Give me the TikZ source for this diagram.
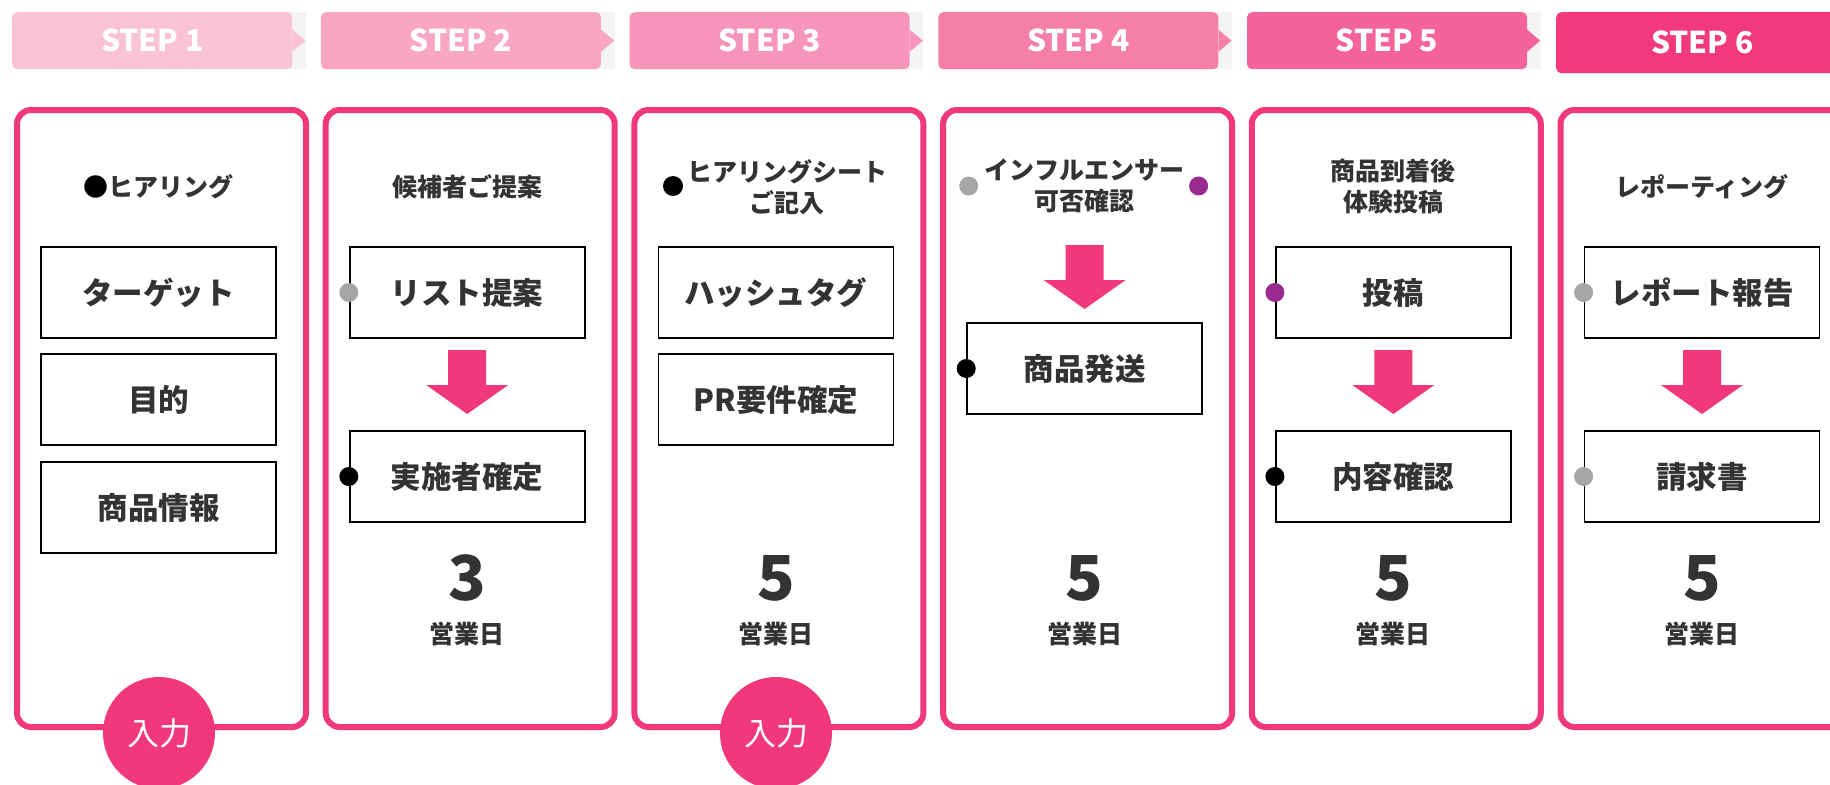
\documentclass[tikz,border=0pt]{standalone}
\usepackage{fontspec}
\setmainfont{Noto Sans CJK JP}
\usetikzlibrary{calc}
\definecolor{pk}{HTML}{F0387A}
\definecolor{sA}{HTML}{F9C2D6}
\definecolor{sB}{HTML}{F8A6C4}
\definecolor{sC}{HTML}{F794BA}
\definecolor{sD}{HTML}{F67FAA}
\definecolor{sE}{HTML}{F4639A}
\definecolor{sF}{HTML}{F2397B}
\definecolor{txt}{HTML}{333333}
\definecolor{dotgray}{HTML}{A6A6A6}
\definecolor{dotpurple}{HTML}{9B2A8E}
\definecolor{tabgray}{HTML}{F4F4F4}
\tikzset{
  panel/.style={draw=pk, line width=6pt, rounded corners=14pt, fill=white, minimum width=289pt, minimum height=617pt, anchor=north west, inner sep=0pt},
  hdr/.style={rounded corners=5pt, minimum width=280pt, minimum height=57pt, anchor=north west, inner sep=0pt, text=white, font=\bfseries\fontsize{30}{30}\selectfont},
  stepbox/.style={draw=black, line width=1.8pt, fill=white, minimum width=235pt, minimum height=91pt, inner sep=0pt, text=txt, font=\bfseries\fontsize{30.5}{32}\selectfont},
  ttl/.style={text=txt, align=center, inner sep=0pt, font=\bfseries\fontsize{25}{31}\selectfont},
  num/.style={text=txt, inner sep=0pt, font=\bfseries\fontsize{62}{62}\selectfont},
  unit/.style={text=txt, inner sep=0pt, font=\bfseries\fontsize{25}{25}\selectfont},
  dot/.style={circle, minimum size=19pt, inner sep=0pt},
  badge/.style={circle, fill=pk, minimum size=112pt, inner sep=0pt, text=white, font=\fontsize{32}{32}\selectfont},
  dnarrow/.pic={\fill[pk] (-19,0) -- (19,0) -- (19,35) -- (41,35) -- (0,64) -- (-41,35) -- (-19,35) -- cycle;}
}
\begin{document}
\begin{tikzpicture}[x=1pt,y=-1pt]
\useasboundingbox (0,0) rectangle (1830,784);
\fill[white] (0,0) rectangle (1830,784);
% headers
\foreach \i/\c in {1/sA,2/sB,3/sC,4/sD,5/sE}{
  \pgfmathsetmacro{\hx}{12+308.7*(\i-1)}
  \fill[tabgray] (\hx+272,12) rectangle (\hx+294,69);
  \node[hdr, fill=\c] (h\i) at (\hx,12) {STEP \i};
  \fill[\c] ($(h\i.east)+(0,-11)$) -- ($(h\i.east)+(13,0)$) -- ($(h\i.east)+(0,11)$) -- cycle;
}
\node[hdr, fill=sF, minimum width=292pt, minimum height=61pt] (h6) at (1556,12) {STEP 6};
% panels
\foreach \i in {1,...,6}{
  \pgfmathsetmacro{\px}{14+308.7*(\i-1)}
  \node[panel] (p\i) at (\px,107) {};
}
% panel 1
\node[ttl] (t1) at (158.5,187) {\textcolor{black}{●}ヒアリング};
\node[stepbox] (b11) at (158.5,292.5) {ターゲット};
\node[stepbox] (b12) at (158.5,399.5) {目的};
\node[stepbox] (b13) at (158.5,507.5) {商品情報};
\node[badge] (in1) at (159,733) {入力};
% panel 2
\node[ttl] (t2) at (467.2,187) {候補者ご提案};
\node[stepbox] (b21) at (467.2,292.5) {リスト提案};
\pic at (467.2,350) {dnarrow};
\node[stepbox] (b22) at (467.2,476.5) {実施者確定};
\node[dot, fill=dotgray] (d21) at (b21.west) {};
\node[dot, fill=black] (d22) at (b22.west) {};
\node[num] (n2) at (467.2,578) {3};
\node[unit] (u2) at (467.2,634) {営業日};
% panel 3
\node[ttl] (t3) at (787,187) {ヒアリングシート\\ご記入};
\node[dot, fill=black, minimum size=20pt] (d3) at (673,186) {};
\node[stepbox] (b31) at (775.9,292.5) {ハッシュタグ};
\node[stepbox] (b32) at (775.9,399.5) {PR要件確定};
\node[num] (n3) at (775.9,578) {5};
\node[unit] (u3) at (775.9,634) {営業日};
\node[badge] (in3) at (776,733) {入力};
% panel 4
\node[ttl] (t4) at (1084.6,186) {インフルエンサー\\可否確認};
\node[dot, fill=dotgray] (d4a) at (968.7,186) {};
\node[dot, fill=dotpurple] (d4b) at (1198.6,186) {};
\pic at (1084.6,245) {dnarrow};
\node[stepbox] (b41) at (1084.6,368.5) {商品発送};
\node[dot, fill=black] (d41) at (b41.west) {};
\node[num] (n4) at (1084.6,578) {5};
\node[unit] (u4) at (1084.6,634) {営業日};
% panel 5
\node[ttl] (t5) at (1393.3,186) {商品到着後\\体験投稿};
\node[stepbox] (b51) at (1393.3,292.5) {投稿};
\pic at (1393.3,350) {dnarrow};
\node[stepbox] (b52) at (1393.3,476.5) {内容確認};
\node[dot, fill=dotpurple] (d51) at (b51.west) {};
\node[dot, fill=black] (d52) at (b52.west) {};
\node[num] (n5) at (1393.3,578) {5};
\node[unit] (u5) at (1393.3,634) {営業日};
% panel 6
\node[ttl] (t6) at (1702,187) {レポーティング};
\node[stepbox] (b61) at (1702,292.5) {レポート報告};
\pic at (1702,350) {dnarrow};
\node[stepbox] (b62) at (1702,476.5) {請求書};
\node[dot, fill=dotgray] (d61) at (b61.west) {};
\node[dot, fill=dotgray] (d62) at (b62.west) {};
\node[num] (n6) at (1702,578) {5};
\node[unit] (u6) at (1702,634) {営業日};
\end{tikzpicture}
\end{document}
